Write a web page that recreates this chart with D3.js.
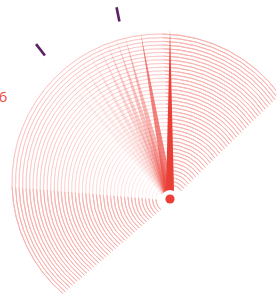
<!DOCTYPE html>
<html>
<head>
<meta charset="utf-8">
<script src="https://cdn.jsdelivr.net/npm/d3@7"></script>
<style>
  html, body { margin: 0; padding: 0; background: #fff; }
  svg { display: block; }
</style>
</head>
<body>
<div id="chart"></div>
<script>
// band of rings (degrees, 0 = up, clockwise)
var bandStart = -139, bandEnd = 54;
var fadeStart = -92, fadeEnd = 1;
var ringCount = 42;

// needle trail, oldest first
var trailAngles  = [-41, -37, -33, -29, -25, -22, -18.5, -15.5, -10, 0];
var trailOpacity = [0.04, 0.06, 0.09, 0.13, 0.18, 0.24, 0.3, 0.36, 0.65, 1];

// ticks and labels
var tickAngles = [-37.7, -11.4];
var labelTexts = ["6"];
var labelAngles = [-56.4];

var width = 276, height = 296;
var hub = [170, 199];        // needle pivot
var outerHub = [160, 182];   // centre of the outermost ring
var scaleHub = [155, 198];   // centre of ticks / labels

var svg = d3.select("#chart").append("svg")
    .attr("width", width)
    .attr("height", height);

var deg = d3.scaleLinear().domain([0, 360]).range([0, 2 * Math.PI]);
var ring = d3.scaleLinear().domain([0, ringCount - 1]).range([14, 148]);
var hubX = d3.scaleLinear().domain([0, ringCount - 1]).range([hub[0], outerHub[0]]);
var hubY = d3.scaleLinear().domain([0, ringCount - 1]).range([hub[1], outerHub[1]]);
var fadeOp = d3.scaleLinear().domain([0, ringCount - 1]).range([0.1, 0.55]);

var arc = d3.arc();

// rings, drawn as three pieces: bright / faded / bright
var rings = svg.append("g").selectAll("g")
    .data(d3.range(ringCount))
    .enter().append("g")
    .attr("transform", function(i) { return "translate(" + hubX(i) + "," + hubY(i) + ")"; });

var pieces = [
    {a0: bandStart, a1: fadeStart, faded: false},
    {a0: fadeStart, a1: fadeEnd, faded: true},
    {a0: fadeEnd, a1: bandEnd, faded: false}
];

rings.each(function(i) {
    d3.select(this).selectAll("path")
        .data(pieces)
        .enter().append("path")
        .attr("d", function(p) {
            return arc({innerRadius: ring(i), outerRadius: ring(i),
                        startAngle: deg(p.a0), endAngle: deg(p.a1)});
        })
        .attr("fill", "none")
        .attr("stroke", "#f9b4b0")
        .attr("stroke-width", 1)
        .attr("stroke-opacity", function(p) { return p.faded ? fadeOp(i) : 1; });
});

// needle trail
var g = svg.append("g").attr("transform", "translate(" + hub[0] + "," + hub[1] + ")");
var needleLen = 170, needleHalf = 4.2;
function needle(a) {
    var t = deg(a);
    var s = Math.sin(t), c = -Math.cos(t);
    var px = -c, py = s;
    return "M" + (px * needleHalf) + "," + (py * needleHalf) +
        "L" + (s * needleLen) + "," + (c * needleLen) +
        "L" + (-px * needleHalf) + "," + (-py * needleHalf) + "Z";
}
g.append("g").selectAll("path")
    .data(trailAngles)
    .enter().append("path")
    .attr("d", needle)
    .attr("fill", "#ea3f37")
    .attr("fill-opacity", function(d, i) { return trailOpacity[i]; });

g.append("circle").attr("r", 9).attr("fill", "#fff");
g.append("circle").attr("r", 4.6).attr("fill", "#ea3f37");

// ticks
var s = svg.append("g").attr("transform", "translate(" + scaleHub[0] + "," + scaleHub[1] + ")");
s.append("g").selectAll("line")
    .data(tickAngles)
    .enter().append("line")
    .attr("x1", function(d) { return Math.sin(deg(d)) * 180; })
    .attr("y1", function(d) { return -Math.cos(deg(d)) * 180; })
    .attr("x2", function(d) { return Math.sin(deg(d)) * 194.5; })
    .attr("y2", function(d) { return -Math.cos(deg(d)) * 194.5; })
    .attr("stroke", "#5b1f63")
    .attr("stroke-width", 2.6);

s.append("g").selectAll("text")
    .data(labelTexts)
    .enter().append("text")
    .attr("x", function(d, i) { return Math.sin(deg(labelAngles[i])) * 182.5; })
    .attr("y", function(d, i) { return -Math.cos(deg(labelAngles[i])) * 182.5; })
    .attr("dy", "0.35em")
    .attr("text-anchor", "middle")
    .attr("font-family", "Open Sans, sans-serif")
    .attr("font-size", 15)
    .attr("fill", "#ee4b40")
    .text(function(d) { return d; });
</script>
</body>
</html>
